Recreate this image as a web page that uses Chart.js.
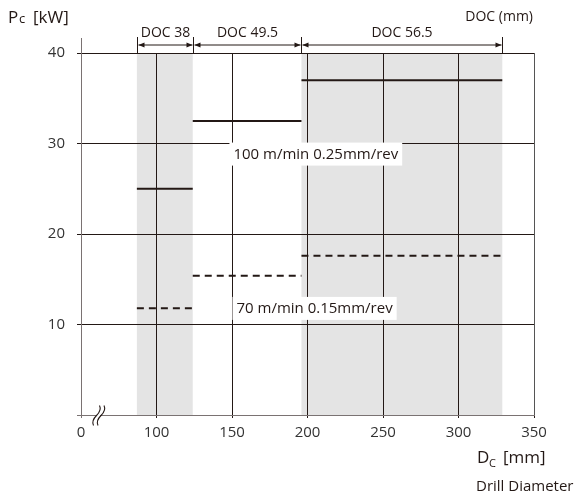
<!DOCTYPE html>
<html lang="en">
<head>
  <meta charset="UTF-8" />
  <title>Drill power vs diameter</title>
  <script src="https://cdn.jsdelivr.net/npm/chart.js"></script>
  <style>
    body { margin: 0; background: #fff; }
    #wrap { width: 575px; height: 498px; position: relative; }
  </style>
</head>
<body>
  <div id="wrap"><canvas id="chart"></canvas></div>

  <script>
    // x axis: left end is a broken axis, value 50 is printed as "0"
    const xTickValues = [50, 100, 150, 200, 250, 300, 350];
    const xTickLabels = ['0', '100', '150', '200', '250', '300', '350'];
    const yTickValues = [0, 10, 20, 30, 40];
    const yTickLabels = ['', '10', '20', '30', '40'];

    // DOC ranges over drill diameter (mm)
    const docLabels = ['DOC 38', 'DOC 49.5', 'DOC 56.5'];
    const rangeStart = [87, 124, 196];
    const rangeEnd = [124, 196, 329];
    const shadedRanges = [0, 2];

    // cutting power Pc (kW) per range
    const seriesNames = ['100 m/min 0.25mm/rev', '70 m/min 0.15mm/rev'];
    const power100 = [25, 32.5, 37];
    const power70 = [11.8, 15.4, 17.6];

    const ink = '#231815';
    const axisGrey = '#7a7272';
    const fontFam = "'Open Sans', 'Noto Sans', sans-serif";

    function steps(values) {
      const pts = [];
      values.forEach((v, i) => {
        pts.push({ x: rangeStart[i], y: v });
        pts.push({ x: rangeEnd[i], y: v });
        pts.push({ x: rangeEnd[i], y: null });
      });
      return pts;
    }

    const extras = {
      id: 'extras',
      beforeDraw(chart) {
        const { ctx, chartArea, scales: { x } } = chart;
        ctx.save();
        ctx.fillStyle = '#e4e4e4';
        shadedRanges.forEach(i => {
          const l = x.getPixelForValue(rangeStart[i]);
          const r = x.getPixelForValue(rangeEnd[i]);
          ctx.fillRect(l, chartArea.top, r - l, chartArea.bottom - chartArea.top);
        });
        ctx.restore();
      },
      afterDraw(chart) {
        const { ctx, chartArea, scales: { x, y } } = chart;
        ctx.save();

        // y axis sticks out above the top grid line
        ctx.strokeStyle = axisGrey;
        ctx.lineWidth = 1;
        ctx.beginPath();
        ctx.moveTo(Math.round(chartArea.left) + 0.5, chartArea.top - 15);
        ctx.lineTo(Math.round(chartArea.left) + 0.5, chartArea.top);
        ctx.stroke();

        // DOC dimension arrows
        const bounds = [rangeStart[0], ...rangeEnd];
        const bx = bounds.map(v => Math.round(x.getPixelForValue(v)) + 0.5);
        const ay = chartArea.top - 8;
        ctx.strokeStyle = ink;
        ctx.fillStyle = ink;
        bx.forEach(px => {
          ctx.beginPath();
          ctx.moveTo(px, chartArea.top - 16);
          ctx.lineTo(px, chartArea.top);
          ctx.stroke();
        });
        ctx.font = '14px ' + fontFam;
        ctx.textAlign = 'center';
        ctx.textBaseline = 'middle';
        for (let i = 0; i < docLabels.length; i++) {
          const a = bx[i] + 1, b = bx[i + 1] - 1;
          ctx.beginPath();
          ctx.moveTo(a, ay);
          ctx.lineTo(b, ay);
          ctx.stroke();
          ctx.beginPath();
          ctx.moveTo(a, ay); ctx.lineTo(a + 6, ay - 2.5); ctx.lineTo(a + 6, ay + 2.5); ctx.closePath();
          ctx.moveTo(b, ay); ctx.lineTo(b - 6, ay - 2.5); ctx.lineTo(b - 6, ay + 2.5); ctx.closePath();
          ctx.fill();
          ctx.fillText(docLabels[i], (a + b) / 2, chartArea.top - 20);
        }
        ctx.textAlign = 'right';
        ctx.fillText('DOC (mm)', 533, 17);

        // series labels on white boxes
        const boxes = [
          { text: seriesNames[0], x: 148.3, y: 30.1 },
          { text: seriesNames[1], x: 150.3, y: 13.05 }
        ];
        ctx.font = '15px ' + fontFam;
        ctx.textAlign = 'left';
        boxes.forEach(bxo => {
          const px = x.getPixelForValue(bxo.x);
          const py = y.getPixelForValue(bxo.y);
          const w = ctx.measureText(bxo.text).width + 8;
          ctx.fillStyle = '#fff';
          ctx.fillRect(px, py, w, 23);
          ctx.fillStyle = ink;
          ctx.fillText(bxo.text, px + 4, py + 12);
        });

        // axis titles
        ctx.textBaseline = 'alphabetic';
        ctx.font = '17px ' + fontFam;
        ctx.fillText('P', 8, 23);
        ctx.font = '13px ' + fontFam;
        ctx.fillText('c', 19, 23);
        ctx.font = '17px ' + fontFam;
        ctx.fillText('[kW]', 33, 23);

        ctx.font = '17px ' + fontFam;
        ctx.fillText('D', 477, 463);
        ctx.font = '11px ' + fontFam;
        ctx.fillText('C', 489, 467);
        ctx.font = '17px ' + fontFam;
        ctx.fillText('[mm]', 503, 463);
        ctx.font = '15px ' + fontFam;
        ctx.fillText('Drill Diameter', 476, 491);

        // axis break mark
        const by = Math.round(chartArea.bottom) + 0.5;
        ctx.fillStyle = '#fff';
        ctx.fillRect(97, by - 2, 3, 4);
        ctx.strokeStyle = ink;
        ctx.lineWidth = 1.1;
        [96.5, 101].forEach(x0 => {
          ctx.beginPath();
          ctx.moveTo(x0 - 3, by + 10);
          ctx.bezierCurveTo(x0 - 5, by + 6, x0 - 3, by + 3, x0, by);
          ctx.bezierCurveTo(x0 + 3, by - 3, x0 + 5, by - 6, x0 + 3, by - 10);
          ctx.stroke();
        });
        ctx.restore();
      }
    };

    new Chart(document.getElementById('chart'), {
      type: 'line',
      data: {
        datasets: [
          {
            label: seriesNames[0],
            data: steps(power100),
            borderColor: ink,
            borderWidth: 2,
            pointRadius: 0,
            spanGaps: false
          },
          {
            label: seriesNames[1],
            data: steps(power70),
            borderColor: ink,
            borderWidth: 2,
            borderDash: [7, 5],
            pointRadius: 0,
            spanGaps: false
          }
        ]
      },
      options: {
        responsive: true,
        maintainAspectRatio: false,
        animation: false,
        layout: { padding: { left: 0, top: 53, right: 41, bottom: 0 } },
        plugins: {
          legend: { display: false },
          tooltip: { enabled: false }
        },
        scales: {
          x: {
            type: 'linear',
            min: 50,
            max: 350,
            afterFit: s => { s.height = 83; },
            afterBuildTicks: s => { s.ticks = xTickValues.map(v => ({ value: v })); },
            border: { display: true, color: axisGrey, width: 1 },
            grid: {
              color: c => (c.tick && c.tick.value === 50 ? 'rgba(0,0,0,0)' : (c.tick && c.tick.value === 350 ? '#555' : ink)),
              tickColor: c => (c.tick && c.tick.value === 50 ? axisGrey : ink),
              tickLength: 3,
              lineWidth: 1
            },
            ticks: {
              padding: 6,
              color: '#333',
              font: { family: fontFam, size: 15 },
              maxRotation: 0,
              callback: (v, i) => xTickLabels[i]
            }
          },
          y: {
            min: 0,
            max: 40,
            afterFit: s => { s.width = 81; },
            afterBuildTicks: s => { s.ticks = yTickValues.map(v => ({ value: v })); },
            border: { display: true, color: axisGrey, width: 1 },
            grid: {
              color: c => (c.tick && c.tick.value === 0 ? 'rgba(0,0,0,0)' : ink),
              tickColor: c => (c.tick && c.tick.value === 0 ? axisGrey : ink),
              tickLength: 4,
              lineWidth: 1
            },
            ticks: {
              padding: 12,
              color: '#333',
              font: { family: fontFam, size: 15 },
              callback: (v, i) => yTickLabels[i]
            }
          }
        }
      },
      plugins: [extras]
    });
  </script>
</body>
</html>
